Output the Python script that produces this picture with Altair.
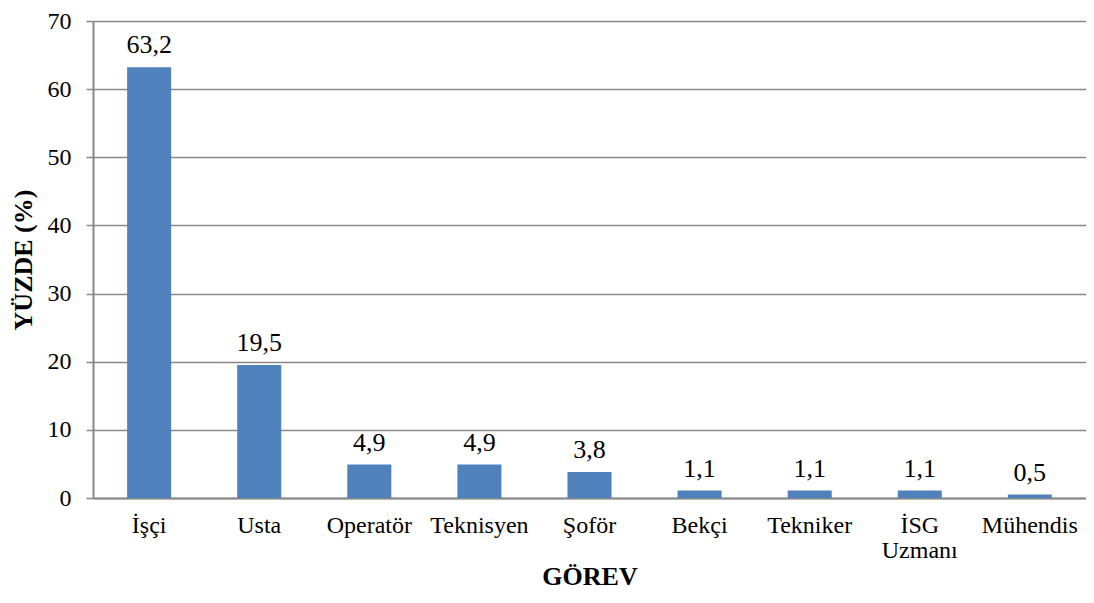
import altair as alt
import pandas as pd

categories = ["İşçi", "Usta", "Operatör", "Teknisyen", "Şoför", "Bekçi", "Tekniker", "İSG Uzmanı", "Mühendis"]
values = [63.2, 19.5, 4.9, 4.9, 3.8, 1.1, 1.1, 1.1, 0.5]
y_ticks = [0, 10, 20, 30, 40, 50, 60, 70]

df = pd.DataFrame({
    "cat": categories,
    "val": values,
    "lbl": [f"{v:.1f}".replace(".", ",") for v in values],
})

FONT = "Liberation Serif"
W, H = 993, 477

x = alt.X("cat:N", sort=categories, title="GÖREV",
          scale=alt.Scale(paddingInner=0.6, paddingOuter=0.31),
          axis=alt.Axis(labelAngle=0, ticks=False, labelPadding=15, labelFontSize=24,
                        labelFont=FONT, labelColor="black", labelLineHeight=25,
                        labelExpr="datum.label == 'İSG Uzmanı' ? ['İSG', 'Uzmanı'] : datum.label",
                        titleFont=FONT, titleFontSize=26, titleFontWeight="bold",
                        titleColor="black", titleX=W / 2, titleY=86,
                        titleBaseline="alphabetic", titleAlign="center",
                        domainColor="#888888", domainWidth=2, labelLimit=300))
y = alt.Y("val:Q", title="YÜZDE (%)",
          scale=alt.Scale(domain=[0, 70], nice=False),
          axis=alt.Axis(values=y_ticks, tickSize=7, tickColor="#888888", tickWidth=1.5,
                        labelFontSize=24, labelFont=FONT, labelColor="black", labelPadding=15,
                        titleFont=FONT, titleFontSize=26, titleFontWeight="bold",
                        titleColor="black", titleX=-70, titleY=H / 2, titleAngle=270,
                        titleBaseline="middle", titleAlign="center",
                        grid=True, gridColor="#888888", gridWidth=1.5,
                        domainColor="#888888", domainWidth=2))

bars = alt.Chart(df).mark_bar(color="#4F81BD").encode(x=x, y=y)
text = alt.Chart(df).mark_text(font=FONT, fontSize=26, baseline="alphabetic", dy=-14, color="black").encode(
    x=alt.X("cat:N", sort=categories), y="val:Q", text="lbl:N")

chart = (bars + text).properties(
    width=W, height=H,
    autosize=alt.AutoSizeParams(type="none"),
    padding={"left": 85, "top": 13, "right": 0, "bottom": 97},
).configure_view(stroke=None)

chart.save("out.html", embed_options={"renderer": "svg", "actions": False})
